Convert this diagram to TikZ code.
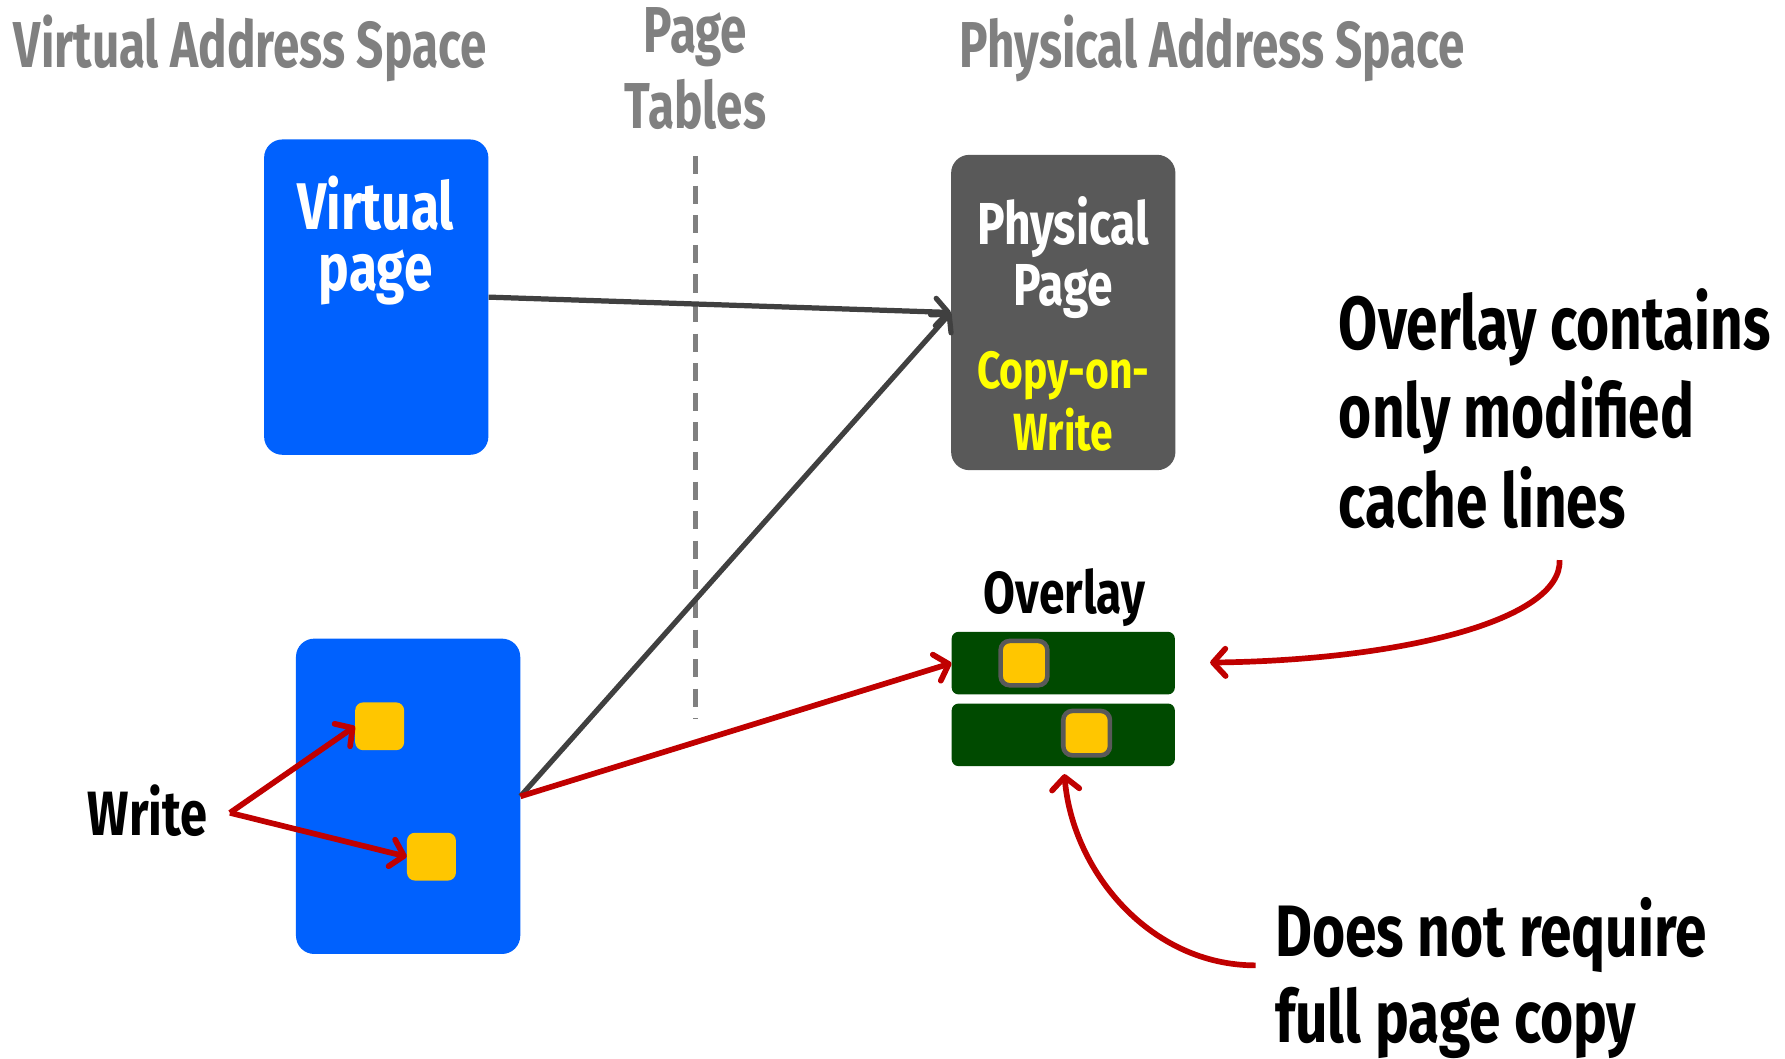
\documentclass[tikz,border=0pt]{standalone}
\usepackage{fontspec}
\setmainfont{Fira Sans}[FakeStretch=0.78]
\newfontfamily\tfont{Fira Sans}[FakeStretch=0.735]
\newfontfamily\afont{Fira Sans}[FakeStretch=0.755]
\usetikzlibrary{arrows.meta}
\definecolor{vblue}{HTML}{0061FE}
\definecolor{pgray}{HTML}{595959}
\definecolor{ogreen}{HTML}{004A00}
\definecolor{cyel}{HTML}{FFC600}
\definecolor{ared}{HTML}{C00000}
\definecolor{adark}{HTML}{404040}
\definecolor{tgray}{HTML}{808080}
\definecolor{wyel}{HTML}{FFFF00}
\tikzset{
  pagebox/.style={rectangle, rounded corners=16pt, inner sep=0pt, minimum width=197pt, minimum height=277pt},
  barbox/.style={rectangle, rounded corners=6pt, fill=ogreen, inner sep=0pt, minimum width=196pt, minimum height=55pt},
  cline/.style={rectangle, rounded corners=7pt, fill=cyel, inner sep=0pt, minimum width=43pt, minimum height=42pt},
  clinebd/.style={rectangle, rounded corners=8pt, fill=cyel, draw=pgray, line width=4pt, inner sep=0pt, minimum width=41pt, minimum height=39pt},
  txt/.style={inner sep=0pt, font=\bfseries\fontsize{#1}{#1}\selectfont},
  ttl/.style={inner sep=0pt, text=tgray, font=\tfont\bfseries\fontsize{57}{57}\selectfont},
  atxt/.style={inner sep=0pt, font=\afont\bfseries\fontsize{#1}{#1}\selectfont},
  tip/.style={-{Straight Barb[length=11pt,width=24pt,line cap=round,line join=round]}},
  darrow/.style={tip, draw=adark, line width=4.6pt},
  rarrow/.style={tip, draw=ared, line width=5pt},
}
\begin{document}
\begin{tikzpicture}[x=1pt,y=-1pt]
\useasboundingbox (0,0) rectangle (1568,930);
% titles
\node[ttl, anchor=base west] (tva) at (12,59) {Virtual Address Space};
\node[ttl, anchor=base] (tpt1) at (611,46) {Page};
\node[ttl, anchor=base] (tpt2) at (611,113) {Tables};
\node[ttl, anchor=base west] (tpa) at (843,59) {Physical Address Space};
% dashed separator
\coordinate (dtop) at (611,137);
\coordinate (dbot) at (611,632);
\draw[tgray, line width=3.8pt, dash pattern=on 16pt off 10pt] (dtop) -- (dbot);
% virtual page
\node[pagebox, fill=vblue] (vp) at (330.5,261) {};
\node[txt=58, text=white, anchor=base] (vpt1) at (330,202) {Virtual};
\node[txt=58, text=white, anchor=base] (vpt2) at (330,255) {page};
% physical page
\node[pagebox, fill=pgray] (pp) at (934,274.5) {};
\node[txt=52, text=white, anchor=base] (ppt1) at (934,215) {Physical};
\node[txt=52, text=white, anchor=base] (ppt2) at (934,268) {Page};
\node[txt=46, text=wyel, anchor=base] (ppt3) at (934,341) {Copy-on-};
\node[txt=46, text=wyel, anchor=base] (ppt4) at (934,396) {Write};
% lower virtual page
\node[pagebox, fill=vblue] (lp) at (358.5,699.5) {};
\node[cline] (sqa) at (333.5,638) {};
\node[cline] (sqb) at (379,752.5) {};
% overlay
\node[txt=52, anchor=base] (ovl) at (935,539) {Overlay};
\node[barbox] (bar1) at (934,582.5) {};
\node[barbox] (bar2) at (934,645.5) {};
\node[clinebd] (sq1) at (899.5,582.5) {};
\node[clinebd] (sq2) at (954.5,644) {};
% write
\node[txt=55, anchor=base west] (wr) at (77,734) {Write};
\coordinate (wpt) at (202,714);
% annotations
\node[atxt=66, anchor=base west] (an1) at (1176,307) {Overlay contains};
\node[atxt=66, anchor=base west] (an2) at (1176,384) {only modified};
\node[atxt=66, anchor=base west] (an3) at (1176,463) {cache lines};
\node[txt=64, anchor=base west] (an4) at (1120,840) {Does not require};
\node[txt=64, anchor=base west] (an5) at (1120,916) {full page copy};
\coordinate (c1s) at (1370,492);
\coordinate (c1e) at (1063,582);
\coordinate (c2s) at (1103,848);
\coordinate (c2e) at (935,680);
% connectors
\draw[darrow] (vp.east) -- (pp.west);
\draw[darrow] (lp.east) -- (pp.west);
\draw[rarrow] (lp.east) -- (bar1.west);
\draw[rarrow] (wpt) -- (sqa.west);
\draw[rarrow] (wpt) -- (sqb.west);
\draw[rarrow] (c1s) .. controls (1372,545) and (1230,580) .. (c1e);
\draw[rarrow] (c2s) .. controls (1010,848) and (942,765) .. (c2e);
\end{tikzpicture}
\end{document}
